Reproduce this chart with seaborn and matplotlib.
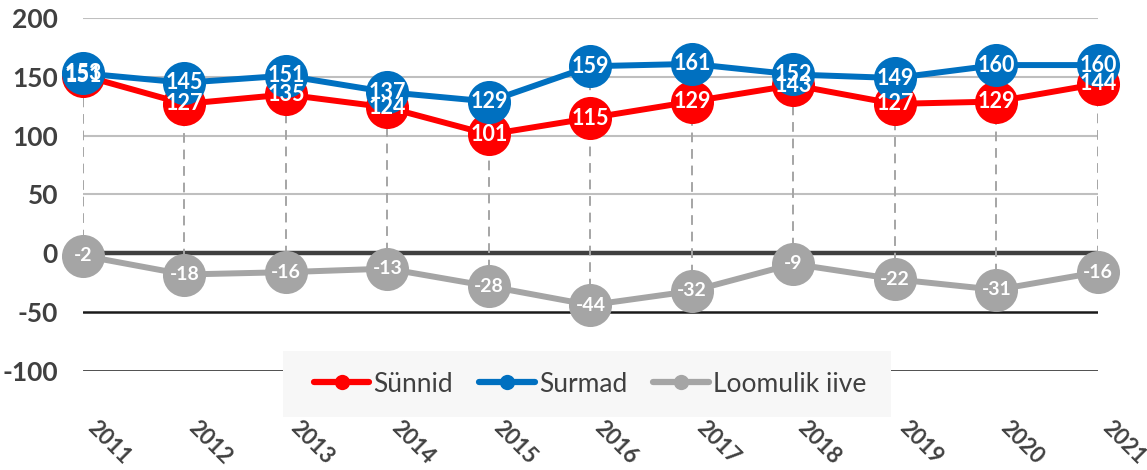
import matplotlib
matplotlib.use("Agg")
import matplotlib.pyplot as plt
import seaborn as sns
import pandas as pd
from matplotlib.lines import Line2D
from matplotlib.patches import Rectangle

years = [2011, 2012, 2013, 2014, 2015, 2016, 2017, 2018, 2019, 2020, 2021]
year_labels = [str(y) for y in years]
sunnid = [151, 127, 135, 124, 101, 115, 129, 143, 127, 129, 144]
surmad = [153, 145, 151, 137, 129, 159, 161, 152, 149, 160, 160]
iive = [-2, -18, -16, -13, -28, -44, -32, -9, -22, -31, -16]
series_names = ["Sünnid", "Surmad", "Loomulik iive"]
y_ticks = [-100, -50, 0, 50, 100, 150, 200]

colors = ["#FF0000", "#0070C0", "#A5A5A5"]

sns.set_style("white")
plt.rcParams["font.family"] = ["Lato", "DejaVu Sans"]

W, H = 1147, 470
fig = plt.figure(figsize=(W / 100, H / 100), dpi=100)
ax = fig.add_axes([83 / W, 1 - 371 / H, (1098 - 83) / W, (371 - 18) / H])

df = pd.DataFrame({"year": years * 3,
                   "value": sunnid + surmad + iive,
                   "series": [series_names[0]] * 11 + [series_names[1]] * 11 + [series_names[2]] * 11})

# gridlines
for v in y_ticks:
    if v > 0:
        ax.axhline(v, color="#BFBFBF", lw=1.5, zorder=0.5)
    elif v == 0:
        ax.axhline(v, color="#404040", lw=3.2, zorder=0.6)
    else:
        ax.axhline(v, color="#1A1A1A", lw=1.8, zorder=0.5)

# high-low lines
lows = [min(a, b, c) for a, b, c in zip(sunnid, surmad, iive)]
highs = [max(a, b, c) for a, b, c in zip(sunnid, surmad, iive)]
ax.vlines(years, lows, highs, colors="#A5A5A5", linestyles=(0, (5, 3.5)), lw=1.4, zorder=0.8)

for i, name in enumerate(series_names):
    sns.lineplot(data=df[df.series == name], x="year", y="value", ax=ax,
                 color=colors[i], lw=4.3, marker="o", markersize=31,
                 markeredgewidth=0, clip_on=False, zorder=2 + i, legend=False)

for vals, fs in [(sunnid, 15.5), (surmad, 15.5), (iive, 14)]:
    for x, v in zip(years, vals):
        ax.text(x, v, str(v), ha="center", va="center", color="white",
                fontsize=fs, fontweight="bold", zorder=10, clip_on=False)

ax.set_xlim(2011, 2021)
ax.set_ylim(-100, 200)
ax.set_yticks(y_ticks)
ax.set_yticklabels([str(v) for v in y_ticks], fontsize=19, fontweight="bold", color="#404040")
ax.set_xticks(years)
ax.set_xticklabels(year_labels, fontsize=16, fontweight="bold", color="#404040",
                   rotation=-45, ha="left", va="top")
ax.tick_params(axis="y", length=0, pad=18)
ax.tick_params(axis="x", length=0, pad=33)
ax.set_xlabel("")
ax.set_ylabel("")
for s in ax.spines.values():
    s.set_visible(False)

# legend background and legend
fig.patches.append(Rectangle((283 / W, 1 - 417 / H), 608 / W, 66 / H,
                             transform=fig.transFigure, facecolor="#F7F7F7",
                             edgecolor="none", zorder=1))
handles = [Line2D([0], [0], color=c, lw=4.5, marker="o", markersize=11, markeredgewidth=0)
           for c in colors]
fig.legend(handles, series_names, loc="center",
           bbox_to_anchor=((283 + 891) / 2 / W + 3 / W, 1 - 384 / H),
           ncol=3, frameon=False, fontsize=19, handlelength=2.1, handletextpad=0.15,
           columnspacing=1.0, labelcolor="#404040")

fig.savefig("out.png", dpi=100)
